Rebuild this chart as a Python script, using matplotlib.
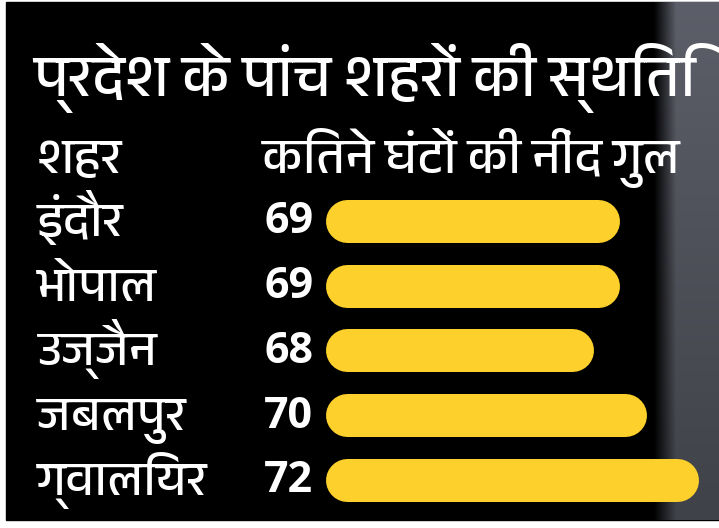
'''
Sleep loss in five cities of the state - horizontal rounded bar infographic
'''

import numpy as np
import matplotlib
matplotlib.use('Agg')
import matplotlib.pyplot as plt
from matplotlib import font_manager
from matplotlib.ft2font import FT2Font
from matplotlib.patches import Rectangle

title = 'प्रदेश के पांच शहरों की स्थिति'
col_city = 'शहर'
col_value = 'कितने घंटों की नींद गुल'
cities = ['इंदौर', 'भोपाल', 'उज्जैन', 'जबलपुर', 'ग्वालियर']
hours = [69, 69, 68, 70, 72]

bar_base = 57.8    # bars are drawn from here, not from zero
bar_color = '#fdd02b'


def find_devanagari():
    # look for any installed font that has devanagari glyphs
    found = []
    for f in font_manager.fontManager.ttflist:
        try:
            if 0x0915 in FT2Font(f.fname).get_charmap():
                found.append(f.name)
        except Exception:
            pass
    for name in found:
        if 'Devanagari' in name:
            return name
    if found:
        return found[0]
    return 'DejaVu Sans'


def main():
    hindi = [find_devanagari(), 'Noto Sans', 'DejaVu Sans']
    num_font = ['Open Sans', 'Noto Sans', 'DejaVu Sans']

    W, H = 719, 528
    fig = plt.figure(figsize=(W / 100, H / 100), dpi=100)
    fig.patch.set_facecolor('white')

    # background axes in pixel units
    bg = fig.add_axes([0, 0, 1, 1])
    bg.set_xlim(0, W)
    bg.set_ylim(H, 0)
    bg.axis('off')
    bg.add_patch(Rectangle((6, 2), W - 6, 518, color='black', zorder=0))

    # dark photo strip on the right edge
    cols = np.concatenate([np.zeros(8), np.linspace(0, 1, 22), np.ones(40)])
    rows = np.linspace(1.0, 0.7, 60)
    shade = np.outer(rows, cols)
    img = np.zeros((60, len(cols), 3))
    img[..., 0] = shade * 0.36
    img[..., 1] = shade * 0.37
    img[..., 2] = shade * 0.41
    bg.imshow(img, extent=(645, W, 520, 2), aspect='auto', zorder=0.5,
              interpolation='bilinear')

    bg.text(33, 96, title, color='white', fontsize=42.5, family=hindi,
            ha='left', va='baseline')
    bg.text(37, 173, col_city, color='white', fontsize=36, family=hindi,
            ha='left', va='baseline')
    bg.text(262, 173, col_value, color='white', fontsize=36, family=hindi,
            ha='left', va='baseline')

    # bar axes
    top_px, row_px = 188.6, 64.75
    left_px, right_px = 325, 704
    x_max = 72.2
    n = len(cities)
    ax = fig.add_axes([left_px / W, 1 - (top_px + n * row_px) / H,
                       (right_px - left_px) / W, n * row_px / H])
    ax.set_xlim(bar_base, x_max)
    ax.set_ylim(n - 0.5, -0.5)
    ax.axis('off')

    # rounded bars: thick lines with round caps, pulled in by the cap radius
    bar_px = 43
    rx = (bar_px / 2) * (x_max - bar_base) / (right_px - left_px)
    for i, v in enumerate(hours):
        ax.plot([bar_base + rx, v - rx], [i, i], color=bar_color,
                linewidth=bar_px * 0.72, solid_capstyle='round')

    for i, (c, v) in enumerate(zip(cities, hours)):
        y = top_px + (i + 0.5) * row_px
        bg.text(37, y + 15, c, color='white', fontsize=35, family=hindi,
                ha='left', va='baseline')
        bg.text(264, y + 1, str(v), color='white', fontsize=31, family=num_font,
                fontweight='bold', ha='left', va='center')

    plt.savefig('out.png', dpi=100, facecolor=fig.get_facecolor())


if __name__ == '__main__':
    main()
